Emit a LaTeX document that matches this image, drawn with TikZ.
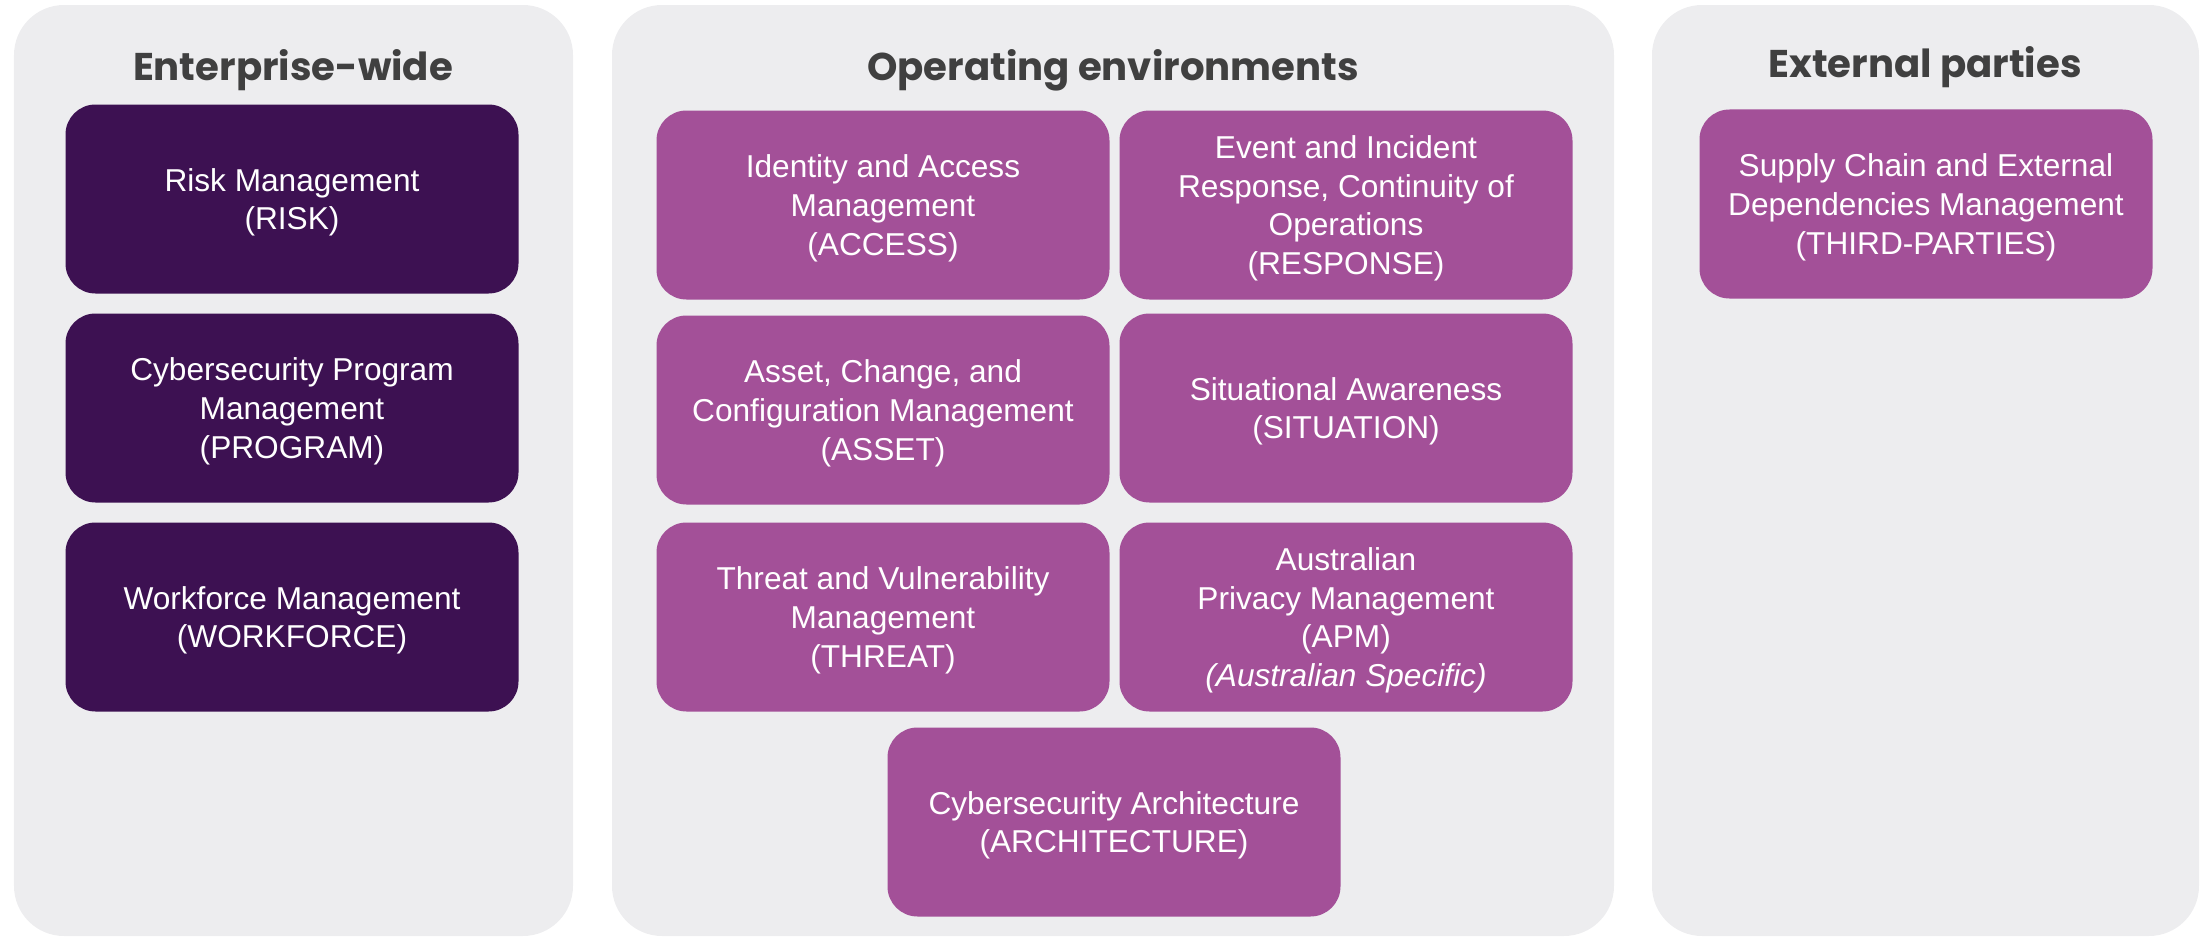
\documentclass[tikz,border=0pt]{standalone}
\usepackage{fontspec}
\setmainfont{Liberation Sans}
\newfontfamily\headfont{Poppins}
\usetikzlibrary{positioning}

\definecolor{panelgray}{HTML}{EDEDEF}
\definecolor{darkplum}{HTML}{3D1152}
\definecolor{plum}{HTML}{A35098}
\definecolor{headgray}{HTML}{404040}

\begin{document}
\begin{tikzpicture}[font=\fontsize{9}{11}\selectfont,
    panelbg/.style={fill=panelgray, rounded corners=0.5cm},
    paneltitle/.style={font=\headfont\bfseries\fontsize{11}{13}\selectfont, text=headgray, anchor=base},
    dombox/.style={rounded corners=0.3cm, minimum width=4.53cm, minimum height=1.89cm, align=center, text=white, inner sep=0pt,
                   text depth=-0.9pt},
    ewbox/.style={dombox, fill=darkplum},
    opbox/.style={dombox, fill=plum}]
    \useasboundingbox (0,0) rectangle (22.01,-9.38);

    \coordinate (p01) at ( 0.14,-0.05);
    \coordinate (p02) at ( 5.73,-9.36);
    \coordinate (p03) at ( 6.12,-0.05);
    \coordinate (p04) at (16.14,-9.36);
    \coordinate (p05) at (16.52,-0.05);
    \coordinate (p06) at (21.99,-9.36);

    \coordinate (t01) at ( 2.93,-0.80);
    \coordinate (t02) at (11.13,-0.80);
    \coordinate (t03) at (19.25,-0.78);

    \coordinate (e01) at ( 2.92,-1.99);
    \coordinate (e02) at ( 2.92,-4.08);
    \coordinate (e03) at ( 2.92,-6.17);

    \coordinate (o01) at ( 8.83,-2.05);
    \coordinate (o02) at (13.46,-2.05);
    \coordinate (o03) at ( 8.83,-4.10);
    \coordinate (o04) at (13.46,-4.08);
    \coordinate (o05) at ( 8.83,-6.17);
    \coordinate (o06) at (13.46,-6.17);
    \coordinate (o07) at (11.14,-8.22);

    \coordinate (x01) at (19.26,-2.04);

    % background panels
    \fill[panelbg] (p01) rectangle (p02);
    \fill[panelbg] (p03) rectangle (p04);
    \fill[panelbg] (p05) rectangle (p06);

    \node[paneltitle] (enterprise) at (t01) {Enterprise-wide};
    \node[paneltitle] (operating)  at (t02) {Operating environments};
    \node[paneltitle] (external)   at (t03) {External parties};

    \node[ewbox] (risk)      at (e01) {Risk Management\\(RISK)};
    \node[ewbox] (program)   at (e02) {Cybersecurity Program\\Management\\(PROGRAM)};
    \node[ewbox] (workforce) at (e03) {Workforce Management\\(WORKFORCE)};

    \node[opbox] (access)    at (o01) {Identity and Access\\Management\\(ACCESS)};
    \node[opbox] (response)  at (o02) {Event and Incident\\Response, Continuity of\\Operations\\(RESPONSE)};
    \node[opbox] (asset)     at (o03) {Asset, Change, and\\Configuration Management\\(ASSET)};
    \node[opbox] (situation) at (o04) {Situational Awareness\\(SITUATION)};
    \node[opbox] (threat)    at (o05) {Threat and Vulnerability\\Management\\(THREAT)};
    \node[opbox] (apm)       at (o06) {Australian\\Privacy Management\\(APM)\\\textit{(Australian Specific)}};
    \node[opbox] (arch)      at (o07) {Cybersecurity Architecture\\(ARCHITECTURE)};

    \node[opbox] (thirdparty) at (x01) {Supply Chain and External\\Dependencies Management\\(THIRD-PARTIES)};
\end{tikzpicture}
\end{document}
